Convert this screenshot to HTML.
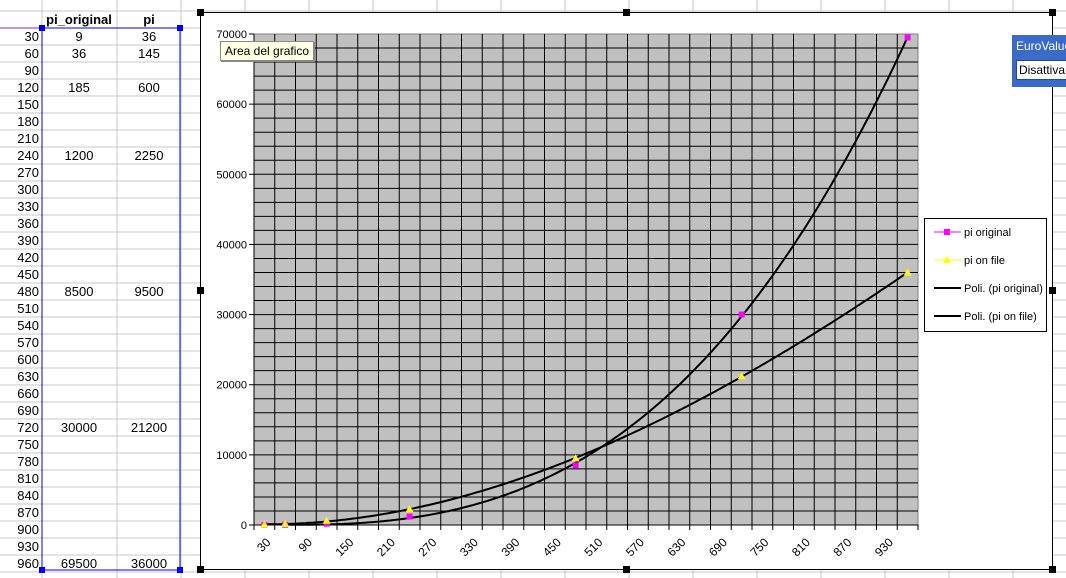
<!DOCTYPE html>
<html><head><meta charset="utf-8"><style>
body{margin:0;width:1066px;height:578px;overflow:hidden;background:#fff;font-family:"Liberation Sans",sans-serif;position:relative}
</style></head><body>
<svg width="1066" height="578" style="position:absolute;left:0;top:0" id="sheet"></svg>
<svg width="1066" height="578" style="position:absolute;left:0;top:0" id="chart"></svg>
<div style="position:absolute;left:220px;top:41px;background:#ffffe1;border:1px solid #888;font-size:12px;padding:2px 4px;box-shadow:1px 1px 0 #888">Area del grafico</div>
<div style="position:absolute;left:1012px;top:35px;width:60px;height:52px;background:#3a6bc9">
<div style="position:absolute;left:4px;top:4px;color:#fff;font-size:12px">EuroValue</div>
<div style="position:absolute;left:4px;top:25px;width:60px;height:18px;background:#fff;border:1px solid #24498f;font-size:12px;line-height:18px;padding-left:2px">Disattiva</div>
</div>
<script>
const cats=[];for(let v=30;v<=960;v+=30)cats.push(v);
const piOriginal=[9,36,null,185,null,null,null,1200,null,null,null,null,null,null,null,8500,null,null,null,null,null,null,null,30000,null,null,null,null,null,null,null,69500];
const piOnFile=[36,145,null,600,null,null,null,2250,null,null,null,null,null,null,null,9500,null,null,null,null,null,null,null,21200,null,null,null,null,null,null,null,36000];
const yTicks=[0,10000,20000,30000,40000,50000,60000,70000];
const NS="http://www.w3.org/2000/svg";
function mk(p,t,a,txt){const e=document.createElementNS(NS,t);for(const k in a)e.setAttribute(k,a[k]);if(txt!=null)e.textContent=txt;p.appendChild(e);return e;}
const sh=document.getElementById('sheet');
for(let y=11;y<578;y+=17){const l=mk(sh,'line',{x1:0,x2:1066,y1:y,y2:y,stroke:'#c8c8c8'});}
for(let x=42;x<1066;x+=(x===42?75:64)){const l=mk(sh,'line',{x1:x,x2:x,y1:0,y2:578,stroke:'#c8c8c8'});}
mk(sh,'line',{x1:0,x2:42,y1:28,y2:28,stroke:'#a020a0'});
let h=mk(sh,'text',{x:79,y:24,'text-anchor':'middle','font-size':13,'font-weight':'bold','font-family':'Liberation Sans'},'pi_original');

h=mk(sh,'text',{x:149,y:24,'text-anchor':'middle','font-size':13,'font-weight':'bold','font-family':'Liberation Sans'},'pi');

cats.forEach((c,i)=>{const y=41+i*17;
 const t=mk(sh,'text',{x:39,y:y,'text-anchor':'end','font-size':13,'font-family':'Liberation Sans'},c);
 if(piOriginal[i]!=null){const a=mk(sh,'text',{x:79,y:y,'text-anchor':'middle','font-size':13,'font-family':'Liberation Sans'},piOriginal[i]);}
 if(piOnFile[i]!=null){const b=mk(sh,'text',{x:149,y:y,'text-anchor':'middle','font-size':13,'font-family':'Liberation Sans'},piOnFile[i]);}
});
mk(sh,'rect',{x:42,y:28,width:138,height:542,fill:'none',stroke:'#0000ff'});
[[42,28],[180,28],[42,570],[180,570]].forEach(p=>mk(sh,'rect',{x:p[0]-3,y:p[1]-3,width:6,height:6,fill:'#0000ff'}));
const ch=document.getElementById('chart');
mk(ch,'rect',{x:200.5,y:12.5,width:852,height:557,fill:'#fff',stroke:'#000'});
[[200,12],[626,12],[1052,12],[200,290],[1052,290],[200,569],[626,569],[1052,569]].forEach(p=>mk(ch,'rect',{x:p[0]-3,y:p[1]-3,width:7,height:7,fill:'#000'}));
const L=254,R=918,T=34,B=525,n=cats.length,cw=(R-L)/n,ymax=70000;
const X=i=>L+(i+0.5)*cw, Y=v=>B-v/ymax*(B-T);
const pa=mk(ch,'rect',{x:L,y:T,width:R-L,height:B-T,fill:'#c0c0c0',stroke:'#808080'});

for(let v=2000;v<ymax;v+=2000)mk(ch,'line',{x1:L,x2:R,y1:Y(v),y2:Y(v),stroke:'#000'});
for(let k=1;k<n;k++)mk(ch,'line',{x1:L+k*cw,x2:L+k*cw,y1:T,y2:B,stroke:'#000'});
mk(ch,'line',{x1:L,x2:L,y1:T,y2:B,stroke:'#000'});mk(ch,'line',{x1:L,x2:R,y1:B,y2:B,stroke:'#000'});
yTicks.forEach(v=>{mk(ch,'line',{x1:L-5,x2:L,y1:Y(v),y2:Y(v),stroke:'#000'});
 const t=mk(ch,'text',{x:L-7,y:Y(v)+4,'text-anchor':'end','font-size':11,'font-family':'Liberation Sans'},v);});
for(let k=0;k<=n;k++)mk(ch,'line',{x1:L+k*cw,x2:L+k*cw,y1:B,y2:B+5,stroke:'#000'});
cats.forEach((c,i)=>{if(i%2)return;const t=mk(ch,'text',{x:0,y:0,'text-anchor':'end','font-size':12,'font-family':'Liberation Sans',transform:`translate(${X(i)+7},${B+18}) rotate(-45)`},c);});
function fit(arr,deg){const m=deg+1;const S=[],b=[];for(let r=0;r<m;r++){S.push(new Array(m).fill(0));b.push(0);}
 arr.forEach((v,i)=>{if(v==null)return;const x=(i+1)/n,p=[];for(let r=0;r<m;r++)p.push(Math.pow(x,r));for(let r=0;r<m;r++){b[r]+=p[r]*v;for(let c=0;c<m;c++)S[r][c]+=p[r]*p[c];}});
 for(let i=0;i<m;i++){for(let j=i+1;j<m;j++){const f=S[j][i]/S[i][i];for(let k=0;k<m;k++)S[j][k]-=f*S[i][k];b[j]-=f*b[i];}}
 const c=new Array(m).fill(0);for(let i=m-1;i>=0;i--){let s=b[i];for(let k=i+1;k<m;k++)s-=S[i][k]*c[k];c[i]=s/S[i][i];}return c;}
[[piOriginal,'trend-pi-original'],[piOnFile,'trend-pi-on-file']].forEach(([arr,name])=>{const c=fit(arr,3);let d='';
 for(let t=0;t<=(n-1)*10;t++){const i=t/10,x=(i+1)/n;let v=0;c.forEach((cc,r)=>v+=cc*Math.pow(x,r));v=Math.max(0,v);d+=(t?'L':'M')+X(i).toFixed(1)+','+Y(v).toFixed(1);}
 const p=mk(ch,'path',{d:d,fill:'none',stroke:'#000','stroke-width':2});});
piOriginal.forEach((v,i)=>{if(v==null)return;const m=mk(ch,'rect',{x:X(i)-3,y:Y(v)-3,width:6,height:6,fill:'#ff00ff'});});
piOnFile.forEach((v,i)=>{if(v==null)return;const x=X(i),y=Y(v);const m=mk(ch,'polygon',{points:`${x},${y-4} ${x-4},${y+3} ${x+4},${y+3}`,fill:'#ffff00'});});
const lg=mk(ch,'g',{});
mk(lg,'rect',{x:924.5,y:218.5,width:122,height:113,fill:'#fff',stroke:'#000'});
const le=[['pi original','#ff00ff','sq'],['pi on file','#ffff00','tri'],['Poli. (pi original)','#000',''],['Poli. (pi on file)','#000','']];
le.forEach((e,k)=>{const y=232+k*28;const g=mk(lg,'g',{});
 mk(g,'line',{x1:934,x2:961,y1:y,y2:y,stroke:e[1],'stroke-width':e[2]?1:2});
 if(e[2]==='sq')mk(g,'rect',{x:944,y:y-3,width:6,height:6,fill:e[1]});
 if(e[2]==='tri')mk(g,'polygon',{points:`947,${y-4} 943,${y+3} 951,${y+3}`,fill:e[1]});
 mk(g,'text',{x:964,y:y+4,'font-size':11,'font-family':'Liberation Sans'},e[0]);});
</script>
</body></html>
